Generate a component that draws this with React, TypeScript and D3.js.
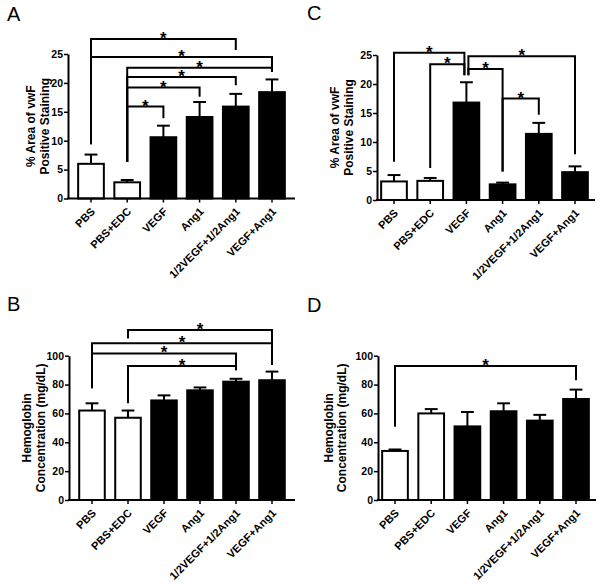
// @ts-nocheck
import React, { useEffect, useRef } from 'react';
import * as d3 from 'd3';

const groups = ['PBS', 'PBS+EDC', 'VEGF', 'Ang1', '1/2VEGF+1/2Ang1', 'VEGF+Ang1'];
const openGroups = ['PBS', 'PBS+EDC'];

// means and upper SEM
const vwfA = [6.0, 2.8, 10.6, 14.1, 15.9, 18.4];
const vwfAErr = [1.6, 0.4, 2.0, 2.6, 2.2, 2.2];
const vwfC = [3.2, 3.3, 16.8, 2.7, 11.4, 4.8];
const vwfCErr = [1.1, 0.5, 3.5, 0.3, 1.9, 1.0];
const hbB = [62, 57, 69, 76, 82, 83];
const hbBErr = [5, 5, 3.5, 2, 2, 6];
const hbD = [34, 60, 51, 61.5, 55, 70];
const hbDErr = [1, 3, 10, 5.5, 4, 6.5];

const vwfTicks = [0, 5, 10, 15, 20, 25];
const hbTicks = [0, 20, 40, 60, 80, 100];

// significance brackets: [from, to, bracket level, left leg end, right leg end]
const sigA = [
  ['PBS', '1/2VEGF+1/2Ang1', 27.6, 9.4, 25.7],
  ['PBS', 'VEGF+Ang1', 24.5, 9.4, 21.9],
  ['PBS+EDC', 'VEGF+Ang1', 22.6, 6.3, 21.9],
  ['PBS+EDC', '1/2VEGF+1/2Ang1', 21.0, 6.3, 19.6],
  ['PBS+EDC', 'Ang1', 19.2, 6.3, 17.6],
  ['PBS+EDC', 'VEGF', 15.9, 6.3, 13.9],
];
const sigC = [
  ['PBS', 'VEGF', 25.4, 6.6, 21.5],
  ['PBS+EDC', 'VEGF', 23.4, 5.5, 21.5],
  ['VEGF', 'VEGF+Ang1', 24.8, 21.5, 7.9],
  ['VEGF', 'Ang1', 22.6, 21.5, 4.9],
  ['Ang1', '1/2VEGF+1/2Ang1', 17.5, 4.9, 14.7],
];
const splitC = ['VEGF'];
const sigB = [
  ['PBS+EDC', 'VEGF+Ang1', 117.8, 112, 108.6],
  ['PBS', 'VEGF+Ang1', 108.6, 77.4, 93.5],
  ['PBS', '1/2VEGF+1/2Ang1', 101.6, 77.4, 90],
  ['PBS+EDC', '1/2VEGF+1/2Ang1', 92.9, 67, 90],
];
const sigD = [['PBS', 'VEGF+Ang1', 92.9, 50.8, 83]];

const FONT = 'Liberation Sans, Arial, sans-serif';

const panels = [
  {
    letter: 'A', lx: 7, ly: 21, values: vwfA, errs: vwfAErr, ticks: vwfTicks, sig: sigA, split: [],
    left: 68, bottom: 198.5, top: 54, first: 91, last: 272, end: 295,
    yLabel: ['% Area of vwF', 'Positive Staining'], labelX: [35, 49],
  },
  {
    letter: 'C', lx: 307, ly: 20, values: vwfC, errs: vwfCErr, ticks: vwfTicks, sig: sigC, split: splitC,
    left: 377, bottom: 200, top: 55, first: 394, last: 575, end: 595,
    yLabel: ['% Area of vwF', 'Positive Staining'], labelX: [339, 353],
  },
  {
    letter: 'B', lx: 7, ly: 311, values: hbB, errs: hbBErr, ticks: hbTicks, sig: sigB, split: [],
    left: 69, bottom: 500, top: 355.7, first: 92, last: 272, end: 295,
    yLabel: ['Hemoglobin', 'Concentration (mg/dL)'], labelX: [31, 45],
  },
  {
    letter: 'D', lx: 307, ly: 312, values: hbD, errs: hbDErr, ticks: hbTicks, sig: sigD, split: [],
    left: 378, bottom: 500, top: 355.7, first: 395, last: 576, end: 596,
    yLabel: ['Hemoglobin', 'Concentration (mg/dL)'], labelX: [333, 346],
  },
];

const App = () => {
  const ref = useRef(null);

  useEffect(() => {
    const svg = d3.select(ref.current);
    svg.selectAll('*').remove();

    panels.forEach((p) => {
      const g = svg.append('g');
      const yMax = p.ticks[p.ticks.length - 1];
      const y = d3.scaleLinear().domain([0, yMax]).range([p.bottom, p.top]);
      const x = d3.scalePoint().domain(groups).range([p.first, p.last]);
      const bw = x.step() * 0.71;

      // panel letter
      g.append('text')
        .attr('x', p.lx)
        .attr('y', p.ly)
        .style('font-family', FONT)
        .style('font-size', '20px')
        .text(p.letter);

      // bars
      g.selectAll('rect.bar')
        .data(groups)
        .enter()
        .append('rect')
        .attr('x', (d) => x(d) - bw / 2)
        .attr('y', (d, i) => y(p.values[i]))
        .attr('width', bw)
        .attr('height', (d, i) => p.bottom - y(p.values[i]))
        .attr('fill', (d) => (openGroups.includes(d) ? '#fff' : '#000'))
        .attr('stroke', '#000')
        .attr('stroke-width', 2);

      // error bars (upper only)
      groups.forEach((d, i) => {
        const top = y(p.values[i] + p.errs[i]);
        g.append('line')
          .attr('x1', x(d)).attr('x2', x(d))
          .attr('y1', y(p.values[i])).attr('y2', top)
          .attr('stroke', '#000').attr('stroke-width', 2);
        g.append('line')
          .attr('x1', x(d) - bw / 4).attr('x2', x(d) + bw / 4)
          .attr('y1', top).attr('y2', top)
          .attr('stroke', '#000').attr('stroke-width', 2);
      });

      // y axis
      const yAxis = g.append('g')
        .attr('transform', `translate(${p.left},0)`)
        .call(d3.axisLeft(y).tickValues(p.ticks).tickSize(4).tickSizeOuter(0).tickPadding(1));
      yAxis.select('.domain').attr('stroke-width', 2);
      yAxis.selectAll('.tick line').attr('stroke-width', 1.5);
      yAxis.selectAll('text')
        .style('font-family', FONT)
        .style('font-weight', 'bold')
        .style('font-size', '10.5px')
        .attr('fill', '#000');

      // x axis
      g.append('line')
        .attr('x1', p.left - 1).attr('x2', p.end)
        .attr('y1', p.bottom).attr('y2', p.bottom)
        .attr('stroke', '#000').attr('stroke-width', 2);
      groups.forEach((d) => {
        g.append('line')
          .attr('x1', x(d)).attr('x2', x(d))
          .attr('y1', p.bottom).attr('y2', p.bottom + 4)
          .attr('stroke', '#000').attr('stroke-width', 1.5);
        g.append('text')
          .attr('transform', `translate(${x(d) + 2},${p.bottom + 11}) rotate(-45)`)
          .attr('text-anchor', 'end')
          .attr('dy', '0.35em')
          .style('font-family', FONT)
          .style('font-weight', 'bold')
          .style('font-size', '11px')
          .text(d);
      });

      // y label
      const midY = (p.top + p.bottom) / 2;
      p.yLabel.forEach((t, k) => {
        g.append('text')
          .attr('transform', `translate(${p.labelX[k]},${midY}) rotate(-90)`)
          .attr('text-anchor', 'middle')
          .style('font-family', FONT)
          .style('font-weight', 'bold')
          .style('font-size', '12px')
          .text(t);
      });

      // significance brackets
      p.sig.forEach(([a, b, lvl, endA, endB]) => {
        const shiftA = p.split.includes(a) ? 2 : 0;
        const shiftB = p.split.includes(b) ? -2 : 0;
        const xa = x(a) + shiftA;
        const xb = x(b) + shiftB;
        const yl = y(lvl);
        g.append('path')
          .attr('d', `M${xa},${y(endA)}V${yl}H${xb}V${y(endB)}`)
          .attr('fill', 'none')
          .attr('stroke', '#000')
          .attr('stroke-width', 2);
        g.append('text')
          .attr('x', (xa + xb) / 2)
          .attr('y', yl + 5)
          .attr('text-anchor', 'middle')
          .attr('fill', '#000')
          .style('font-family', FONT)
          .style('font-weight', 'bold')
          .style('font-size', '17px')
          .text('*');
      });
    });
  }, []);

  return (
    <svg
      ref={ref}
      width={600}
      height={584}
      style={{ position: 'absolute', left: 0, top: 0, background: '#fff' }}
    />
  );
};

export default App;
